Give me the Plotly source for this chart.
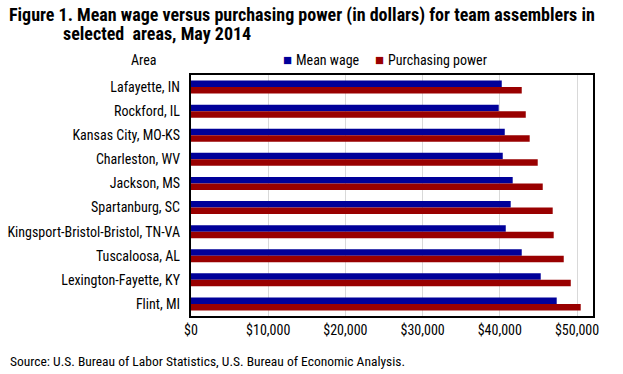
import plotly.graph_objects as go

areas = ["Lafayette, IN", "Rockford, IL", "Kansas City, MO-KS", "Charleston, WV",
         "Jackson, MS", "Spartanburg, SC", "Kingsport-Bristol-Bristol, TN-VA",
         "Tuscaloosa, AL", "Lexington-Fayette, KY", "Flint, MI"]
mean_wage = [40250, 39860, 40640, 40380, 41670, 41410, 40770, 42840, 45300, 47370]
purchasing_power = [42840, 43360, 43870, 44910, 45560, 46850, 46980, 48280, 49190, 50480]
tick_vals = [0, 10000, 20000, 30000, 40000, 50000]
tick_text = ["$0", "$10,000", "$20,000", "$30,000", "$40,000", "$50,000"]

FONT = "Roboto Condensed, Liberation Sans Narrow, Arial Narrow, sans-serif"
BLUE = "#000099"
RED = "#990000"

fig = go.Figure()
fig.add_trace(go.Bar(y=areas, x=mean_wage, orientation="h", name="Mean wage",
                     marker=dict(color=BLUE, line=dict(width=0))))
fig.add_trace(go.Bar(y=areas, x=purchasing_power, orientation="h", name="Purchasing power",
                     marker=dict(color=RED, line=dict(width=0))))

L, R, T, B = 191, 30, 75, 58
W, H = 623 - L - R, 374 - T - B

def px(xp):
    return (xp - L) / W

def py(yp):
    return (374 - B - yp) / H

fig.update_layout(
    width=623, height=374,
    margin=dict(l=L, r=R, t=T, b=B, autoexpand=False),
    paper_bgcolor="white", plot_bgcolor="white",
    barmode="group", bargap=0.46, bargroupgap=0,
    font=dict(family=FONT, size=14, color="#000000"),
    showlegend=False,
    xaxis=dict(range=[0, 52070], tickvals=tick_vals, ticktext=tick_text,
               showgrid=True, gridcolor="#d9d9d9", gridwidth=1,
               showline=True, linecolor="black", linewidth=1.5, mirror=True,
               ticks="", zeroline=False, tickfont=dict(size=14), automargin=False),
    yaxis=dict(autorange="reversed", showline=True, linecolor="black", linewidth=1.5,
               mirror=True, ticks="", ticksuffix="  ", tickfont=dict(size=14),
               automargin=False),
)

def note(text, x, y, size, anchor="left"):
    fig.add_annotation(text=text, xref="paper", yref="paper", x=px(x), y=py(y),
                       xanchor=anchor, yanchor="middle", showarrow=False,
                       font=dict(size=size, family=FONT))

note("<b>Figure 1. Mean wage versus purchasing power (in dollars) for team assemblers in</b>", 7, 15, 18)
note("<b>selected  areas, May 2014</b>", 61, 34, 18)
note("Area", 129, 60, 14)
note(f"<span style='color:{BLUE}'>■</span>", 281, 60, 15)
note("Mean wage", 294, 60, 14)
note(f"<span style='color:{RED}'>■</span>", 373, 60, 15)
note("Purchasing power", 386, 60, 14)
note("Source: U.S. Bureau of Labor Statistics, U.S. Bureau of Economic Analysis.", 8, 361, 13.5)

fig.write_html("out.html", post_script="document.body.style.margin='0';",
               config={"displayModeBar": False})
